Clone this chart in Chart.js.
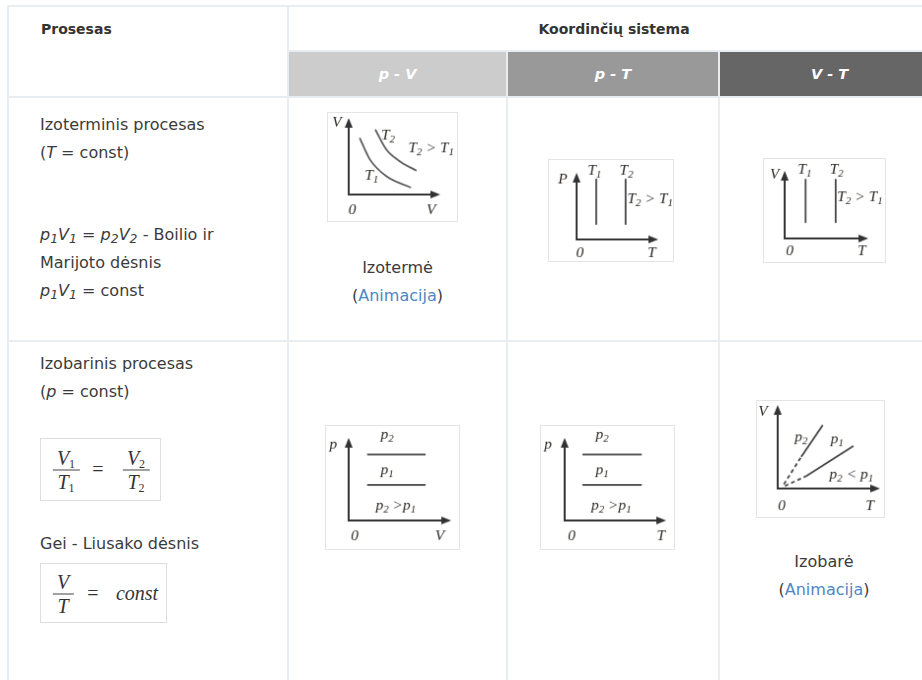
<!DOCTYPE html>
<html>
<head>
<meta charset="utf-8">
<script src="https://cdn.jsdelivr.net/npm/chart.js@4.4.1/dist/chart.umd.min.js"></script>
<style>
body{margin:0;background:#fff;width:922px;height:680px;overflow:hidden;position:relative;font-family:"DejaVu Sans",sans-serif;color:#3b3b3b}
table.grid{position:absolute;left:7px;top:5px;border-collapse:collapse;table-layout:fixed;width:932px}
.grid td{border:2px solid #e8edf2;padding:0}
.grid .hd{font-weight:bold;font-size:14px;color:#333}
.grid .gray{color:#fff;font-weight:bold;font-style:italic;font-size:14.5px;text-align:center}
.txt{position:absolute;font-size:16px;line-height:27.6px;white-space:nowrap}
.txt sub{font-size:0.78em;line-height:0;vertical-align:-0.28em}
.cap{position:absolute;font-size:16px;line-height:27.6px;text-align:center}
.cap a{color:#4f86c6;text-decoration:none}
.fbox{position:absolute;border:1px solid #dedede;box-sizing:border-box;font-family:"Liberation Serif",serif;font-size:20px;color:#333}
.fbox .el{position:absolute;transform:translate(-50%,-50%);white-space:nowrap}
.frac{display:inline-flex;flex-direction:column;align-items:center;line-height:23px}
.frac span{padding:0 5px;font-style:italic}
.frac span+span{border-top:1px solid #444}
.frac sub{font-size:0.6em;vertical-align:-0.3em;line-height:0;font-style:normal}
canvas.dg{position:absolute;border:1px solid #e4e4e4}
</style>
</head>
<body>

<table class="grid">
  <colgroup><col style="width:280px"><col style="width:219px"><col style="width:212px"><col style="width:221px"></colgroup>
  <tr style="height:45px">
    <td class="hd" rowspan="2" style="vertical-align:top;padding:14px 0 0 32px">Prosesas</td>
    <td class="hd" colspan="3" style="text-align:center">Koordinčių sistema</td>
  </tr>
  <tr style="height:46px">
    <td class="gray" style="background:#cccccc">p - V</td>
    <td class="gray" style="background:#999999">p - T</td>
    <td class="gray" style="background:#666666">V - T</td>
  </tr>
  <tr style="height:244px"><td></td><td></td><td></td><td></td></tr>
  <tr style="height:400px"><td></td><td></td><td></td><td></td></tr>
</table>

<div class="txt" style="left:40px;top:111px">
  Izoterminis procesas<br>
  (<i>T</i> = const)<br><br><br>
  <i>p<sub>1</sub>V<sub>1</sub></i> = <i>p<sub>2</sub>V<sub>2</sub></i> - Boilio ir<br>
  Marijoto dėsnis<br>
  <i>p<sub>1</sub>V<sub>1</sub></i> = const
</div>
<div class="txt" style="left:40px;top:350px">
  Izobarinis procesas<br>
  (<i>p</i> = const)
</div>
<div class="txt" style="left:40px;top:530px">Gei - Liusako dėsnis</div>

<div class="fbox" style="left:40px;top:438px;width:121px;height:63px">
  <span class="el" style="left:25px;top:31px"><span class="frac"><span>V<sub>1</sub></span><span>T<sub>1</sub></span></span></span>
  <span class="el" style="left:57px;top:30px">=</span>
  <span class="el" style="left:95px;top:31px"><span class="frac"><span>V<sub>2</sub></span><span>T<sub>2</sub></span></span></span>
</div>
<div class="fbox" style="left:40px;top:563px;width:127px;height:60px">
  <span class="el" style="left:22px;top:30px"><span class="frac"><span>V</span><span>T</span></span></span>
  <span class="el" style="left:52px;top:29px">=</span>
  <span class="el" style="left:96px;top:29px;font-style:italic">const</span>
</div>

<div class="cap" style="left:288px;top:254px;width:219px">Izotermė<br>(<a href="#">Animacija</a>)</div>
<div class="cap" style="left:719px;top:548px;width:210px">Izobarė<br>(<a href="#">Animacija</a>)</div>

<canvas class="dg" id="d1"></canvas>
<canvas class="dg" id="d2"></canvas>
<canvas class="dg" id="d3"></canvas>
<canvas class="dg" id="d4"></canvas>
<canvas class="dg" id="d5"></canvas>
<canvas class="dg" id="d6"></canvas>

<script>
// diagram values, axes run from 0 to 10 in both directions
// izoterma p-V
var isoPV_T1 = [{x:1.2,y:7.4},{x:2.3,y:4.6},{x:4.1,y:2.4},{x:6.8,y:0.9}];
var isoPV_T2 = [{x:2.9,y:8.5},{x:4.1,y:5.9},{x:5.5,y:4.4},{x:7.4,y:3.1}];
// izoterma p-T ir V-T
var isoPT_T1 = [{x:2.4,y:2.2},{x:2.4,y:9.1}];
var isoPT_T2 = [{x:6.0,y:2.2},{x:6.0,y:9.1}];
var isoVT_T1 = [{x:2.5,y:2.3},{x:2.5,y:8.8}];
var isoVT_T2 = [{x:6.1,y:2.3},{x:6.1,y:8.8}];
// izobara p-V ir p-T
var barPV_p2 = [{x:1.8,y:8.0},{x:7.5,y:8.0}];
var barPV_p1 = [{x:1.8,y:4.3},{x:7.5,y:4.3}];
var barPT_p2 = [{x:1.75,y:8.0},{x:7.6,y:8.0}];
var barPT_p1 = [{x:1.75,y:4.3},{x:7.6,y:4.3}];
// izobara V-T (solid + dashed toward 0)
var barVT_p2 = [{x:2.3,y:3.8},{x:4.4,y:7.6}];
var barVT_p2dash = [{x:0.6,y:0.5},{x:2.3,y:3.8}];
var barVT_p1 = [{x:2.8,y:1.5},{x:7.4,y:5.1}];
var barVT_p1dash = [{x:0.7,y:0.3},{x:2.8,y:1.5}];

// text labels: [text, x, y]  ("_" = subscript)
var labels1 = [['V',-1.3,9.4],['T_2',4.3,7.7],['T_2 > T_1',9.0,6.0],['T_1',2.5,2.4],['0',0.4,-2.0],['V',9.0,-2.0]];
var labels2 = [['P',-1.7,9.0],['T_1',2.2,10.3],['T_2',6.1,10.3],['T_2 > T_1',9.0,6.0],['0',0.4,-2.1],['T',9.2,-2.1]];
var labels3 = [['V',-1.2,9.4],['T_1',2.4,10.1],['T_2',6.2,10.1],['T_2 > T_1',9.0,6.1],['0',0.6,-1.9],['T',9.2,-1.9]];
var labels4 = [['p',-1.5,9.2],['p_2',3.75,10.4],['p_1',3.75,6.1],['p_2 >p_1',4.6,1.8],['0',0.6,-1.9],['V',8.9,-1.9]];
var labels5 = [['p',-1.65,9.2],['p_2',3.7,10.4],['p_1',3.7,6.1],['p_2 >p_1',4.6,1.8],['0',0.7,-1.9],['T',9.5,-1.9]];
var labels6 = [['V',-1.45,9.2],['p_2',2.3,6.1],['p_1',5.8,5.9],['p_2 < p_1',7.2,1.6],['0',0.4,-2.1],['T',9.0,-2.1]];

// draws the arrow axes and the italic labels
var arrowAxes = {
  id: 'arrowAxes',
  beforeDatasetsDraw: function(chart) {
    var ctx = chart.ctx, x = chart.scales.x, y = chart.scales.y;
    var ox = x.getPixelForValue(0), oy = y.getPixelForValue(0);
    var tx = x.getPixelForValue(10), ty = y.getPixelForValue(10);
    ctx.save();
    ctx.strokeStyle = '#333';
    ctx.fillStyle = '#333';
    ctx.lineWidth = 2;
    ctx.beginPath();
    ctx.moveTo(ox, ty + 6);
    ctx.lineTo(ox, oy);
    ctx.lineTo(tx - 6, oy);
    ctx.stroke();
    ctx.beginPath();
    ctx.moveTo(ox, ty); ctx.lineTo(ox - 4, ty + 10); ctx.lineTo(ox + 4, ty + 10);
    ctx.closePath(); ctx.fill();
    ctx.beginPath();
    ctx.moveTo(tx, oy); ctx.lineTo(tx - 10, oy - 4); ctx.lineTo(tx - 10, oy + 4);
    ctx.closePath(); ctx.fill();
    ctx.restore();
  },
  afterDatasetsDraw: function(chart, args, opts) {
    var ctx = chart.ctx, sx = chart.scales.x, sy = chart.scales.y;
    ctx.save();
    ctx.fillStyle = '#2e2a26';
    ctx.textBaseline = 'middle';
    (opts.labels || []).forEach(function(l) {
      // split into plain/subscript parts
      var parts = [], s = l[0];
      for (var i = 0; i < s.length; i++) {
        if (s[i] === '_') { parts.push({t: s[i + 1], sub: true}); i++; }
        else if (parts.length && !parts[parts.length - 1].sub) parts[parts.length - 1].t += s[i];
        else parts.push({t: s[i], sub: false});
      }
      var w = 0;
      parts.forEach(function(p) {
        ctx.font = p.sub ? 'italic 11px "Liberation Serif"' : 'italic 15.5px "Liberation Serif"';
        p.w = ctx.measureText(p.t).width;
        w += p.w;
      });
      var px = sx.getPixelForValue(l[1]) - w / 2, py = sy.getPixelForValue(l[2]);
      parts.forEach(function(p) {
        ctx.font = p.sub ? 'italic 11px "Liberation Serif"' : 'italic 15.5px "Liberation Serif"';
        ctx.fillText(p.t, px, p.sub ? py + 4 : py);
        px += p.w;
      });
    });
    ctx.restore();
  }
};

function line(data, dash, curve) {
  return {
    data: data,
    showLine: true,
    pointRadius: 0,
    borderColor: curve ? '#5c5c5c' : '#454545',
    borderWidth: 1.8,
    borderDash: dash ? [4, 3] : [],
    cubicInterpolationMode: curve ? 'monotone' : 'default',
    clip: false
  };
}

// box: left, top, width, height of the picture; origin and arrow tips in page pixels
function diagram(id, box, sets, labels) {
  var c = document.getElementById(id);
  c.style.left = box.left + 'px';
  c.style.top = box.top + 'px';
  c.width = box.w - 2;
  c.height = box.h - 2;
  var inL = box.left + 1, inT = box.top + 1;
  new Chart(c, {
    type: 'scatter',
    data: { datasets: sets },
    options: {
      responsive: false,
      animation: false,
      devicePixelRatio: 1,
      layout: { padding: {
        left: box.ox - inL,
        right: inL + c.width - box.tx,
        top: box.ty - inT,
        bottom: inT + c.height - box.oy
      } },
      scales: {
        x: { type: 'linear', min: 0, max: 10, display: false },
        y: { type: 'linear', min: 0, max: 10, display: false }
      },
      plugins: { legend: { display: false }, tooltip: { enabled: false }, arrowAxes: { labels: labels } }
    },
    plugins: [arrowAxes]
  });
}

diagram('d1', {left:327, top:112, w:133, h:112, ox:349, oy:196, tx:442, ty:118},
  [line(isoPV_T1, false, true), line(isoPV_T2, false, true)], labels1);
diagram('d2', {left:548, top:159, w:128, h:105, ox:577, oy:241, tx:660, ty:173},
  [line(isoPT_T1), line(isoPT_T2)], labels2);
diagram('d3', {left:763, top:158, w:125, h:107, ox:785, oy:240, tx:870, ty:171},
  [line(isoVT_T1), line(isoVT_T2)], labels3);
diagram('d4', {left:325, top:425, w:137, h:127, ox:349, oy:522, tx:453, ty:438},
  [line(barPV_p2), line(barPV_p1)], labels4);
diagram('d5', {left:540, top:425, w:137, h:127, ox:565, oy:522, tx:668, ty:438},
  [line(barPT_p2), line(barPT_p1)], labels5);
diagram('d6', {left:756, top:400, w:131, h:120, ox:778, oy:490, tx:882, ty:405},
  [line(barVT_p2), line(barVT_p2dash, true), line(barVT_p1), line(barVT_p1dash, true)], labels6);
</script>
</body>
</html>
